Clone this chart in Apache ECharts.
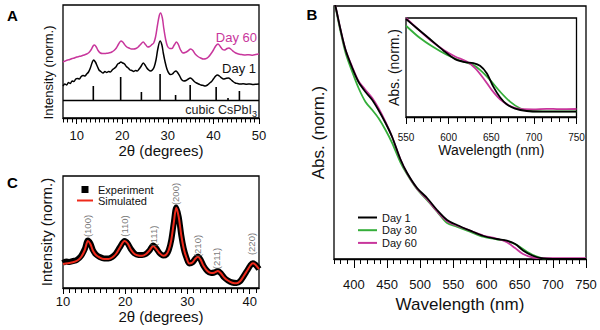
<!DOCTYPE html>
<html><head><meta charset="utf-8">
<script src="https://cdn.jsdelivr.net/npm/echarts@6/dist/echarts.min.js"></script>
<style>html,body{margin:0;padding:0;background:#fff}#c{width:600px;height:330px}</style>
</head><body><div id="c"></div>
<script>
const FONT = 'Liberation Sans, Arial, Helvetica, sans-serif';
const MAGENTA = '#c8369c', GREEN = '#35ae3a', RED = '#ee2a1b';

// ---------- Panel A : XRD (2θ in degrees, intensity arb.) ----------
const xrdDay1 = [[7.0,14],[7.4,16],[7.8,15],[8.2,17.5],[8.6,16.5],[9.0,19],[9.4,18.5],[9.8,21],[10.2,21.5],[10.6,21],[11.0,23.5],[11.4,24.5],[11.8,24],[12.2,26],[12.6,28],[13.0,32],[13.4,37.5],[13.7,40],[14.1,38],[14.5,34],[14.9,30],[15.3,28.5],[15.8,27],[16.2,28.5],[16.6,27.5],[17.0,28.5],[17.4,28],[17.8,30],[18.2,31.5],[18.6,33],[19.0,36],[19.4,37],[19.7,38],[20.1,37],[20.5,36],[20.9,33.5],[21.3,32],[21.7,30],[22.1,29.5],[22.5,28.5],[22.9,29.5],[23.3,29],[23.7,31],[24.1,33.5],[24.6,37],[25.0,35],[25.4,32],[25.8,30],[26.2,29],[26.6,30],[27.0,33],[27.4,40],[27.8,51],[28.3,59],[28.7,55],[29.0,47],[29.4,38],[29.8,31],[30.2,27],[30.6,25.5],[31.0,26],[31.4,28],[31.8,29],[32.2,27],[32.6,24],[33.0,20.5],[33.5,19],[34.0,19.5],[34.5,21],[34.9,22],[35.3,21],[35.8,18.5],[36.3,17],[36.8,16],[37.3,15],[37.8,14.5],[38.2,14],[38.7,15],[39.2,17],[39.6,18.5],[40.0,21],[40.5,24],[40.9,25],[41.3,24],[41.8,22],[42.2,21],[42.7,21.5],[43.3,22],[43.8,20.5],[44.3,18.5],[44.8,17],[45.3,16.5],[45.8,16],[46.5,16.2],[47.3,15.8],[48.0,16],[48.7,15.5],[49.4,15.8],[50.0,16]];
const xrdDay60 = [[7.0,38],[7.5,39],[8,40],[8.5,40.5],[9,41.5],[9.5,42],[10,43],[10.5,43.5],[11,44],[11.6,45],[12.2,46],[12.7,47.5],[13.2,50.5],[13.6,54],[13.9,55],[14.3,53],[14.7,49.5],[15.2,47],[15.7,46.5],[16.2,46.5],[16.7,46.8],[17.2,47.2],[17.7,48],[18.2,49.5],[18.7,52],[19.2,56],[19.7,59],[20.1,58],[20.5,55.5],[21,53],[21.5,52],[22,51],[22.5,51],[23,51.5],[23.5,53],[24,55.5],[24.6,58],[25.1,55.5],[25.6,53],[26.0,53.5],[26.4,55],[26.9,57],[27.3,63],[27.7,74],[28.1,84],[28.4,87],[28.8,82],[29.1,72],[29.5,61],[29.9,54],[30.4,51.5],[30.9,51.5],[31.4,55],[31.9,58],[32.3,55.5],[32.8,50],[33.3,47],[33.8,47.5],[34.4,49],[35.0,51],[35.5,49.5],[36.0,46],[36.6,43.5],[37.2,42],[37.8,41],[38.3,41.2],[38.9,43],[39.5,46.5],[40.0,50],[40.5,54],[41.0,56],[41.5,53.5],[42.0,50.5],[42.5,50],[43.0,51.5],[43.4,52],[43.9,50.5],[44.4,48.5],[44.9,47],[45.5,46],[46.2,45.5],[47.0,45],[47.8,45.3],[48.6,44.8],[49.3,45.5],[50,46]];
const refPeaks = [[13.65,14],[19.65,23],[24.2,8],[28.3,26],[31.7,5],[34.9,15],[40.6,13],[43.2,2],[45.7,9]];
const aMajorTicks = [10,20,30,40,50];

// ---------- Panel C : XRD fit ----------
const cExperiment = [[10,25],[10.5,26.5],[11,26],[11.6,27],[12.2,28],[12.9,32],[13.5,39],[14.0,47.5],[14.4,44.5],[14.8,38],[15.3,33.5],[15.9,31],[16.6,29.5],[17.3,29.5],[17.9,31],[18.5,34.5],[19.1,40.5],[19.9,47],[20.4,44.5],[20.9,39],[21.5,34.5],[22.1,33],[22.7,33],[23.3,34],[23.9,37.5],[24.5,42.5],[25.0,39.5],[25.5,35],[26.1,32.5],[26.6,33.5],[27.0,38],[27.4,48],[27.8,65],[28.2,80.5],[28.6,71],[29.0,53],[29.4,39.5],[29.8,31],[30.3,24.5],[30.8,25.5],[31.3,29.5],[31.7,31.5],[32.1,28.5],[32.6,22],[33.2,17],[33.8,15],[34.3,15.5],[34.9,17],[35.4,14.5],[35.9,10.5],[36.5,7.5],[37.2,5.5],[37.9,5],[38.5,7],[39.0,11.5],[39.6,17.5],[40.1,22.5],[40.5,24.7],[40.9,23.5],[41.5,19]];
const cSimulated = [[10,24],[10.8,24.8],[11.6,25.7],[12.3,27.5],[12.9,31],[13.5,38],[14.0,47],[14.4,44],[14.8,37.5],[15.3,33],[15.9,30.5],[16.6,29],[17.3,29],[17.9,30.5],[18.5,34],[19.1,40],[19.9,47],[20.4,44.5],[20.9,38.5],[21.5,34],[22.1,32.5],[22.7,32.3],[23.3,33.8],[23.9,37.5],[24.5,42],[25.0,39],[25.5,35],[26.1,32.3],[26.6,33.5],[27.0,38],[27.4,48],[27.8,65],[28.2,80.3],[28.6,71],[29.0,53],[29.4,39.5],[29.8,31],[30.3,24.5],[30.8,25.5],[31.3,29.5],[31.7,31.3],[32.1,28.5],[32.6,22],[33.2,17],[33.8,15],[34.3,15.3],[34.9,17],[35.4,14.5],[35.9,10.5],[36.5,7.5],[37.2,5.3],[37.9,4.7],[38.5,7],[39.0,11.5],[39.6,17.5],[40.1,22.5],[40.5,24.7],[40.9,23.5],[41.5,19]];
const hklNames = ['(100)','(110)','(111)','(200)','(210)','(211)','(220)'];
const hklPos = [[13.86,62],[19.92,62],[24.47,52],[28.1,94],[31.6,42],[34.66,29.5],[40.3,44]];
const cMajorTicks = [10,20,30,40];

// ---------- Panel B : absorbance ----------
const absDay1 = [[370,258],[372.5,252],[380,229],[387.5,209],[397.6,191],[407,177],[417.6,167],[427.7,159],[437,149],[447.7,136],[457.7,122],[470,100],[480.3,86],[495.3,71],[510.4,61],[525.4,49],[540.5,39],[555.5,34],[575.5,28.3],[595.5,23],[615.6,20],[630.7,18.3],[643.2,15],[655.6,8.3],[670.7,3],[685.7,0.5],[700,0],[750,0]];
const absDay30 = [[370,258],[372.5,251],[380,227],[387.5,206],[397.6,187],[407,171],[417.6,157],[427.7,149],[437,141],[447.7,129],[457.7,116],[470,97],[480,85],[495,70],[510,59],[525.4,47.3],[540,36.3],[555,32.3],[575,27.3],[595,22.3],[615,19.7],[630,18],[646,14],[661,7.3],[676,2.3],[691,0],[750,0]];
const absDay60 = [[370,258],[372.5,252],[380,229],[387.5,209],[397.6,192],[407,178],[417.6,169],[427.7,161],[437,151],[447.7,137],[457.7,122],[470,100],[480,86],[495,70.5],[510,60],[525,48],[540,38],[555,33.5],[575,28.5],[595,23.5],[615,20.5],[630,17],[643,11],[655,5],[670,1.5],[685,0.8],[750,0.8]];
const insetDay1 = [[550,97.7],[562.5,88.7],[578,77.7],[593.8,66.3],[607.5,57.7],[619.2,54.7],[629,53.7],[636.8,51],[644.7,43.7],[652.4,30.3],[660.3,19.7],[668.1,12.7],[677.9,8.3],[691.6,6],[710,5.4],[750,5.3]];
const insetDay30 = [[550,91],[566.4,78.7],[582,69.7],[597.7,62],[613.3,56.3],[627,52.7],[636.8,47],[648.5,37],[660.3,25.3],[672,15.3],[683.7,8.7],[695.5,6],[710,5.7],[750,5.7]];
const insetDay60 = [[550,98.7],[562.5,88.7],[578,77],[593.8,67],[607.5,60.3],[621.2,55.3],[631,48.7],[640.7,38.7],[650.5,27],[660.3,17.7],[672,11],[683.7,8],[699.3,7.7],[715,8.2],[730,7.8],[750,8]];
const bMajorTicks = [400,450,500,550,600,650,700,750];
const insetMajorTicks = [550,600,650,700,750];

function range(a, b, step) { const r = []; for (let v = a; v <= b + 1e-9; v += step) r.push(+v.toFixed(4)); return r; }

function majorX(grid, min, max, ticks, tickLen, lblSize, margin, name, nameSize, nameGap) {
  return {
    type: 'value', gridIndex: grid, min: min, max: max, position: 'bottom',
    axisLine: { show: true, onZero: false, lineStyle: { color: '#000', width: 1.3 } },
    axisTick: { show: true, inside: false, length: tickLen, customValues: ticks, lineStyle: { color: '#000', width: 1 } },
    axisLabel: { show: true, customValues: ticks, fontSize: lblSize, margin: margin, color: '#111', fontFamily: FONT },
    splitLine: { show: false },
    name: name, nameLocation: 'middle', nameGap: nameGap,
    nameTextStyle: { fontSize: nameSize, color: '#111', fontFamily: FONT }
  };
}
function minorX(grid, min, max, ticks, tickLen) {
  return {
    type: 'value', gridIndex: grid, min: min, max: max, position: 'bottom',
    axisLine: { show: false, onZero: false },
    axisTick: { show: true, inside: false, length: tickLen, customValues: ticks, lineStyle: { color: '#000', width: 1 } },
    axisLabel: { show: false }, splitLine: { show: false }
  };
}
function plainY(grid, min, max, name, nameSize, nameGap, padding) {
  return {
    type: 'value', gridIndex: grid, min: min, max: max,
    axisLine: { show: false }, axisTick: { show: false }, axisLabel: { show: false }, splitLine: { show: false },
    name: name, nameLocation: 'middle', nameGap: nameGap,
    nameTextStyle: { fontSize: nameSize, color: '#111', fontFamily: FONT, padding: padding || 0 }
  };
}
function curve(name, xi, yi, data, color, width) {
  return { type: 'line', name: name, xAxisIndex: xi, yAxisIndex: yi, data: data, symbol: 'none', showSymbol: false, smooth: 0.3,
    silent: true, lineStyle: { color: color, width: width, join: 'round' }, itemStyle: { color: color } };
}

const gridStyle = { show: true, borderColor: '#000', borderWidth: 1.3, containLabel: false };
const LINE_ICON_B = 'path://M0 0H19V2H0Z';
const LINE_ICON_C = 'path://M0 0H16V2H0Z';

const option = {
  animation: false,
  textStyle: { fontFamily: FONT },
  grid: [
    Object.assign({ left: 63, top: 5, width: 196, height: 113 }, gridStyle),
    Object.assign({ left: 63, top: 176, width: 196, height: 112 }, gridStyle),
    Object.assign({ left: 334, top: 6, width: 252, height: 253 }, gridStyle),
    Object.assign({ left: 406, top: 18, width: 170.5, height: 99 }, gridStyle)
  ],
  xAxis: [
    majorX(0, 7, 50, aMajorTicks, 6, 13, 11, '2θ (degrees)', 15, 21),
    minorX(0, 7, 50, range(7, 50, 1), 4.5),
    majorX(1, 10, 41.5, cMajorTicks, 6, 13, 7, '2θ (degrees)', 15, 19),
    minorX(1, 10, 41.5, range(10, 41, 1), 5),
    majorX(2, 370, 750, bMajorTicks, 9, 13, 19, 'Wavelength (nm)', 17, 31),
    minorX(2, 370, 750, range(370, 750, 10), 5),
    majorX(3, 550, 750, insetMajorTicks, 7, 10, 15, 'Wavelength (nm)', 14, 22),
    minorX(3, 550, 750, range(550, 750, 10), 5)
  ],
  yAxis: [
    plainY(0, -18, 95, 'Intensity (norm.)', 13, 8, [0, 22, 0, 0]),
    plainY(1, 0, 112, 'Intensity (norm.)', 15, 9),
    plainY(2, 0, 253, 'Abs. (norm.)', 17, 7),
    plainY(3, 0, 98.7, 'Abs. (norm.)', 14, 5)
  ],
  legend: [
    { data: [{ name: 'Day 1', icon: LINE_ICON_B }, { name: 'Day 30', icon: LINE_ICON_B }, { name: 'Day 60', icon: LINE_ICON_B }],
      orient: 'vertical', left: 353, top: 207,
      itemWidth: 19, itemHeight: 10, itemGap: 1.7, selectedMode: false,
      textStyle: { fontSize: 11, lineHeight: 10, color: '#111', fontFamily: FONT } },
    { data: [{ name: 'Experiment', icon: 'path://M0 0H10V10H0Z' }, { name: 'Simulated', icon: LINE_ICON_C }],
      orient: 'vertical', left: 72, top: 179, itemWidth: 16, itemHeight: 7, itemGap: 0, selectedMode: false,
      textStyle: { fontSize: 11, lineHeight: 10, color: '#111', fontFamily: FONT } }
  ],
  series: [
    // Panel A
    curve('XRD Day 60', 0, 0, xrdDay60, MAGENTA, 1.5),
    curve('XRD Day 1', 0, 0, xrdDay1, '#000', 1.5),
    { type: 'bar', name: 'cubic CsPbI3', xAxisIndex: 0, yAxisIndex: 0, data: refPeaks, barWidth: 1.6, silent: true,
      itemStyle: { color: '#000' },
      markLine: { symbol: 'none', silent: true, label: { show: false },
        lineStyle: { color: '#000', width: 1.3, type: 'solid' }, data: [{ yAxis: 0 }] } },
    // Panel C
    { type: 'line', name: 'Experiment', xAxisIndex: 2, yAxisIndex: 1, data: cExperiment, symbol: 'none', showSymbol: false, smooth: 0.3,
      silent: true, lineStyle: { color: '#000', width: 6, join: 'round' }, itemStyle: { color: '#000' } },
    curve('Simulated', 2, 1, cSimulated, RED, 2),
    { type: 'scatter', name: 'hkl', xAxisIndex: 2, yAxisIndex: 1, symbolSize: 1, silent: true, z: 10,
      itemStyle: { color: 'rgba(0,0,0,0)' },
      data: hklNames.map((n, i) => ({ name: n, value: hklPos[i] })),
      label: { show: true, formatter: '{b}', position: 'inside', rotate: 90, fontSize: 9.5, color: '#555', fontFamily: FONT } },
    // Panel B main
    curve('Day 30', 4, 2, absDay30, GREEN, 1.8),
    curve('Day 60', 4, 2, absDay60, MAGENTA, 1.8),
    curve('Day 1', 4, 2, absDay1, '#000', 1.8),
    // Panel B inset
    curve('Day 30', 6, 3, insetDay30, GREEN, 1.8),
    curve('Day 60', 6, 3, insetDay60, MAGENTA, 1.8),
    curve('Day 1', 6, 3, insetDay1, '#000', 1.8)
  ],
  graphic: [
    { type: 'text', x: 12.5, y: 15, style: { text: 'A', font: 'bold 15px ' + FONT, fill: '#000', align: 'center', verticalAlign: 'middle' } },
    { type: 'text', x: 312, y: 14, style: { text: 'B', font: 'bold 15px ' + FONT, fill: '#000', align: 'center', verticalAlign: 'middle' } },
    { type: 'text', x: 12.5, y: 182, style: { text: 'C', font: 'bold 15px ' + FONT, fill: '#000', align: 'center', verticalAlign: 'middle' } },
    { type: 'text', x: 257, y: 37, style: { text: 'Day 60', font: '13px ' + FONT, fill: MAGENTA, align: 'right', verticalAlign: 'middle' } },
    { type: 'text', x: 256, y: 68, style: { text: 'Day 1', font: '13px ' + FONT, fill: '#111', align: 'right', verticalAlign: 'middle' } },
    { type: 'text', x: 257, y: 110, style: { text: '{b|cubic CsPbI}{s|3}', fill: '#222', align: 'right', verticalAlign: 'middle',
        rich: { b: { fontSize: 12.5, fontFamily: FONT, lineHeight: 16, verticalAlign: 'middle', fill: '#222' },
                s: { fontSize: 9, fontFamily: FONT, lineHeight: 16, verticalAlign: 'bottom', fill: '#222' } } } }
  ]
};

const chart = echarts.init(document.getElementById('c'), null, { renderer: 'svg' });
chart.setOption(option);
</script>
</body></html>
